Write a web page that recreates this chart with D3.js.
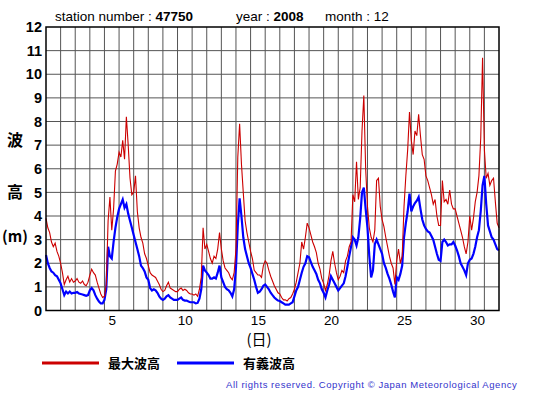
<!DOCTYPE html>
<meta charset="utf-8">
<style>
body { margin: 0; background: #fff; }
text { font-family: "Liberation Sans", Arial, sans-serif; }
.jp { font-family: "Noto Sans CJK JP", sans-serif; font-weight: bold; }
</style>
<script src="https://cdn.jsdelivr.net/npm/d3@7"></script>
<div id="chart"></div>
<script>
// 3-hourly readings, Dec 2008, station 47750 (values in m)
var maxWave = [
  3.9, 3.5, 3.3, 2.9, 2.7, 2.85, 2.5, 2.3,
  2.0, 1.6, 1.1, 1.3, 1.45, 1.2, 1.35, 1.2,
  1.25, 1.35, 1.2, 1.15, 1.25, 1.1, 1.05, 1.2,
  1.5, 1.75, 1.6, 1.5, 1.2, 0.95, 0.7, 0.55,
  0.6, 1.1, 3.8, 4.8, 3.4, 4.3, 5.9, 6.2,
  6.7, 6.5, 7.2, 6.4, 8.2, 7.0, 5.6, 4.9,
  5.0, 5.7, 4.2, 3.5, 3.1, 2.85, 2.4, 2.2,
  1.9, 1.6, 1.5, 1.45, 1.4, 1.25, 1.1, 0.9,
  0.8, 0.85, 1.05, 1.2, 0.95, 0.9, 0.85, 0.8,
  0.8, 0.9, 0.95, 0.85, 0.9, 0.85, 0.75, 0.7,
  0.7, 0.65, 0.7, 0.6, 0.9, 1.4, 3.5, 2.6,
  2.8, 2.5, 2.2, 2.0, 2.3, 2.2, 2.6, 3.3,
  2.6, 2.1, 1.8, 1.7, 1.6, 1.4, 1.3, 1.6,
  2.6, 6.5, 7.9, 6.2, 5.0, 3.8, 3.3, 2.9,
  2.5, 2.2, 1.7, 1.6, 1.5, 1.5, 1.4, 1.9,
  2.1, 2.0, 1.7, 1.45, 1.25, 1.05, 0.9, 0.75,
  0.7, 0.55, 0.45, 0.45, 0.4, 0.5, 0.55, 0.7,
  0.9, 1.2, 1.6, 2.0, 2.9, 2.6, 3.1, 3.7,
  3.5, 3.2, 2.9, 2.7, 2.45, 2.0, 1.75, 1.35,
  1.15, 0.85, 1.1, 1.5, 2.1, 2.5, 2.0, 1.6,
  1.3, 1.45, 1.7, 1.6, 2.1, 2.3, 2.7, 2.9,
  4.9, 4.6, 6.3, 4.7, 5.2, 7.6, 9.1, 6.0,
  4.4, 3.5, 3.1, 2.9, 3.4, 5.5, 5.6, 4.4,
  3.85, 3.55, 3.1, 2.7, 2.3, 2.0, 1.8, 1.1,
  2.1, 2.6, 2.0, 2.3, 4.4, 5.7, 6.8, 8.4,
  7.2, 6.6, 7.6, 7.4, 8.3, 7.4, 6.6, 6.4,
  5.7, 5.5, 5.2, 4.9, 4.5, 4.7, 4.0, 3.6,
  3.6, 5.5, 4.6, 4.7, 4.5, 5.1, 4.5, 4.3,
  4.3, 4.0, 3.7, 3.4, 3.1, 2.7, 2.4, 2.9,
  4.0, 3.4, 3.9, 4.6, 5.0, 5.7, 7.3, 10.7,
  6.8, 5.6, 5.8, 5.3, 5.5, 5.6, 4.6, 3.7,
  3.5
];

var sigWave = [
  2.35, 2.0, 1.8, 1.65, 1.6, 1.5, 1.45, 1.3,
  1.15, 0.9, 0.65, 0.8, 0.72, 0.8, 0.72, 0.75,
  0.75, 0.78, 0.72, 0.7, 0.68, 0.65, 0.62, 0.65,
  0.85, 0.95, 0.85, 0.65, 0.5, 0.38, 0.3, 0.3,
  0.45, 0.9, 2.7, 2.3, 2.2, 2.9, 3.5, 3.95,
  4.3, 4.5, 4.7, 4.35, 4.5, 4.1, 3.8, 3.5,
  3.2, 2.9, 2.6, 2.3, 1.9, 1.8, 1.65, 1.4,
  1.3, 0.95, 0.85, 0.9, 0.85, 0.75, 0.6, 0.5,
  0.45, 0.5, 0.6, 0.65, 0.55, 0.5, 0.45, 0.45,
  0.45, 0.5, 0.55, 0.45, 0.42, 0.42, 0.38, 0.35,
  0.35, 0.35, 0.3, 0.32, 0.5, 0.9, 1.9, 1.7,
  1.6, 1.5, 1.35, 1.35, 1.4, 1.35, 1.6, 1.9,
  1.4, 1.2, 1.0, 0.9, 0.85, 0.75, 0.6, 0.9,
  1.8, 3.6, 4.75, 4.0, 3.1, 2.6, 2.3, 2.0,
  1.8, 1.55, 1.3, 1.0, 0.75, 0.8, 0.9, 1.05,
  1.1, 1.0, 0.9, 0.75, 0.65, 0.55, 0.48, 0.42,
  0.4, 0.35, 0.3, 0.25, 0.25, 0.25, 0.3, 0.35,
  0.6, 0.85, 1.0, 1.3, 1.6, 1.85, 2.0, 2.3,
  2.25, 2.05, 1.85, 1.7, 1.55, 1.3, 1.15, 0.9,
  0.75, 0.55, 0.85, 1.1, 1.45, 1.3, 1.15, 1.0,
  0.85, 0.95, 1.05, 1.15, 1.45, 1.85, 2.3, 2.7,
  3.1, 3.0, 2.75, 3.1, 3.9, 5.0, 5.2, 4.3,
  3.5, 2.3, 1.4, 1.7, 2.8, 3.0, 2.8, 2.6,
  2.4, 2.0, 1.8, 1.55, 1.35, 1.1, 0.8, 0.55,
  1.4, 1.3, 1.55, 1.9, 3.1, 3.7, 4.2, 4.95,
  4.2, 4.4, 4.55, 4.65, 4.8, 4.3, 3.85, 3.6,
  3.45, 3.35, 3.3, 3.15, 3.0, 2.7, 2.4, 2.15,
  2.1, 2.9, 3.0, 2.9, 2.75, 2.8, 2.8, 2.9,
  2.75, 2.55, 2.3, 2.0, 1.85, 1.7, 1.5, 2.0,
  2.15, 2.2, 2.4, 2.7, 3.1, 3.4, 4.2, 5.3,
  5.7, 4.5, 3.6, 3.35, 3.1, 3.0, 2.8, 2.6,
  2.55
];

var dayLabels = [5, 10, 15, 20, 25, 30];
var yTicks = [0, 1, 2, 3, 4, 5, 6, 7, 8, 9, 10, 11, 12];
var seriesNames = ["最大波高", "有義波高"];
var seriesColors = ["#cc0000", "#0000ff"];

var W = 555, H = 395;
var plot = {x0: 46, x1: 499, y0: 27, y1: 310.5};
var nDays = 31, perDay = 8;

var svg = d3.select("#chart").append("svg")
    .attr("width", W)
    .attr("height", H);

var x = d3.scaleLinear().domain([0, nDays]).range([plot.x0, plot.x1]);
var y = d3.scaleLinear().domain([0, 12]).range([plot.y1, plot.y0]);

// grid
svg.append("g")
    .selectAll("line")
    .data(d3.range(1, nDays))
    .enter().append("line")
    .attr("x1", d => x(d)).attr("x2", d => x(d))
    .attr("y1", plot.y0).attr("y2", plot.y1)
    .attr("stroke", "#555").attr("stroke-width", 1);

svg.append("g")
    .selectAll("line")
    .data(yTicks.slice(1, -1))
    .enter().append("line")
    .attr("x1", plot.x0).attr("x2", plot.x1)
    .attr("y1", d => y(d)).attr("y2", d => y(d))
    .attr("stroke", "#555").attr("stroke-width", 1);

// y axis labels
var yAxis = d3.axisLeft(y).tickValues(yTicks).tickSize(0).tickPadding(4);
var gy = svg.append("g")
    .attr("transform", "translate(" + plot.x0 + ",0)")
    .call(yAxis);
gy.select(".domain").remove();
gy.selectAll("text")
    .style("font-size", "14.5px")
    .style("font-weight", "bold")
    .style("font-family", "'Liberation Sans', Arial, sans-serif")
    .attr("fill", "#000");

// x axis labels, centred on each day
var xAxis = d3.axisBottom(x).tickValues(dayLabels.map(d => d - 0.5))
    .tickFormat((d) => Math.round(d + 0.5)).tickSize(0).tickPadding(5);
var gx = svg.append("g")
    .attr("transform", "translate(0," + plot.y1 + ")")
    .call(xAxis);
gx.select(".domain").remove();
gx.selectAll("text")
    .style("font-size", "13.5px")
    .style("font-family", "'Liberation Sans', Arial, sans-serif")
    .attr("fill", "#000");

// lines
var line = d3.line()
    .x((d, i) => x(i / perDay))
    .y(d => y(d));

svg.append("path")
    .datum(sigWave)
    .attr("fill", "none")
    .attr("stroke", seriesColors[1])
    .attr("stroke-width", 2.2)
    .attr("d", line);

svg.append("path")
    .datum(maxWave)
    .attr("fill", "none")
    .attr("stroke", seriesColors[0])
    .attr("stroke-width", 1.1)
    .attr("d", line);

// frame
svg.append("rect")
    .attr("x", plot.x0).attr("y", plot.y0)
    .attr("width", plot.x1 - plot.x0).attr("height", plot.y1 - plot.y0)
    .attr("fill", "none").attr("stroke", "#000").attr("stroke-width", 1.5);

// title
var title = svg.append("text").attr("y", 21).style("font-size", "13.5px");
title.append("tspan").attr("x", 55).text("station number : ");
title.append("tspan").style("font-weight", "bold").text("47750");
var t2 = svg.append("text").attr("x", 236).attr("y", 21).style("font-size", "13.5px");
t2.append("tspan").text("year : ");
t2.append("tspan").style("font-weight", "bold").text("2008");
svg.append("text").attr("x", 325).attr("y", 21).style("font-size", "13.5px").text("month : 12");

// y title
svg.append("text").attr("class", "jp").attr("x", 15).attr("y", 146)
    .attr("text-anchor", "middle").style("font-size", "16px").text("波");
svg.append("text").attr("class", "jp").attr("x", 15).attr("y", 198)
    .attr("text-anchor", "middle").style("font-size", "16px").text("高");
svg.append("text").attr("class", "jp").attr("x", 15).attr("y", 242)
    .attr("text-anchor", "middle").style("font-size", "15px").text("(m)");

// x title
svg.append("text").attr("class", "jp").attr("x", 259).attr("y", 345)
    .attr("text-anchor", "middle").style("font-size", "15px").style("font-weight", "normal")
    .text("(日)");

// legend
var legend = svg.append("g");
var lx = [42, 177];
seriesNames.forEach(function(name, i) {
    legend.append("line")
        .attr("x1", lx[i]).attr("x2", lx[i] + 57)
        .attr("y1", 363).attr("y2", 363)
        .attr("stroke", seriesColors[i]).attr("stroke-width", 3);
    legend.append("text").attr("class", "jp")
        .attr("x", lx[i] + 66).attr("y", 368)
        .style("font-size", "13px")
        .text(name);
});

svg.append("text")
    .attr("x", 226).attr("y", 388)
    .attr("fill", "#3333cc")
    .style("font-size", "9.5px")
    .style("letter-spacing", "0.55px")
    .text("All rights reserved. Copyright © Japan Meteorological Agency");
</script>
